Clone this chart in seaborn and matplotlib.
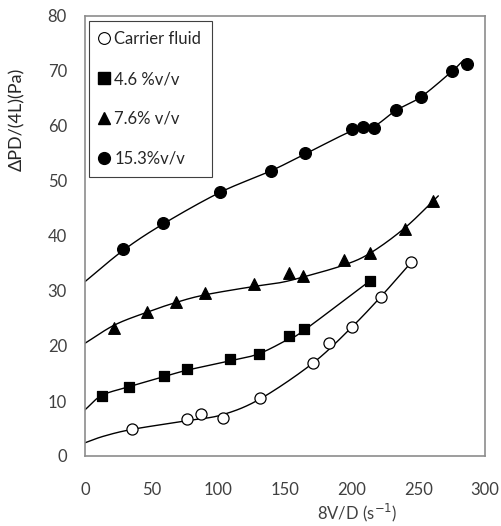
import numpy as np
import pandas as pd
import matplotlib
matplotlib.use("Agg")
import matplotlib.pyplot as plt
import seaborn as sns
from matplotlib.lines import Line2D
from matplotlib.ticker import MultipleLocator

# Measured wall shear stress vs. nominal shear rate
series_names = ["Carrier fluid", "4.6 %v/v", "7.6% v/v", "15.3%v/v"]

carrier_x = [35.5, 76.3, 87.0, 103.3, 131.5, 171.2, 183.2, 200.5, 221.8, 244.7]
carrier_y = [4.9, 6.7, 7.7, 7.0, 10.6, 17.0, 20.6, 23.5, 29.0, 35.3]

conc46_x = [12.5, 33.0, 59.0, 76.5, 109.0, 130.5, 153.0, 164.3, 213.8]
conc46_y = [11.0, 12.5, 14.5, 15.8, 17.6, 18.6, 21.8, 23.1, 31.9]

conc76_x = [22.0, 46.3, 68.0, 90.0, 126.5, 153.0, 163.3, 194.3, 213.8, 240.2, 260.8]
conc76_y = [23.3, 26.1, 28.0, 29.7, 31.3, 33.2, 32.7, 35.6, 36.9, 41.3, 46.4]

conc153_x = [28.7, 58.7, 101.3, 139.3, 165.0, 200.5, 208.7, 216.8, 233.0, 251.8, 275.0, 286.7]
conc153_y = [37.6, 42.3, 48.0, 51.8, 55.0, 59.5, 59.8, 59.6, 62.9, 65.3, 70.0, 71.2]

# Hand-drawn trend curves (knots of each smooth line)
carrier_curve_x = [0, 14, 35.5, 76, 103, 131.5, 171, 200, 222, 245]
carrier_curve_y = [2.4, 3.6, 4.85, 6.4, 7.5, 10.4, 16.9, 23.4, 29.0, 35.3]

conc46_curve_x = [0, 12.5, 33, 59, 76.5, 109, 130.5, 153, 164, 214]
conc46_curve_y = [8.4, 11.0, 12.6, 14.4, 15.6, 17.3, 18.6, 21.3, 22.8, 31.9]

conc76_curve_x = [0, 22, 46, 68, 90, 126, 146, 163, 194, 214, 240, 265]
conc76_curve_y = [20.5, 23.8, 26.1, 27.9, 29.3, 30.8, 31.5, 32.5, 34.7, 36.9, 41.5, 47.3]

conc153_curve_x = [0, 28.7, 58.7, 101, 139, 165, 201, 217, 233, 252, 275, 284]
conc153_curve_y = [31.7, 37.4, 42.2, 47.9, 51.8, 54.9, 59.2, 60.0, 62.8, 65.3, 69.9, 72.0]


def smooth_curve(xs, ys, n=30):
    """Catmull-Rom spline through the given knots."""
    p = np.column_stack([xs, ys]).astype(float)
    p = np.vstack([2 * p[0] - p[1], p, 2 * p[-1] - p[-2]])
    out = []
    t = np.linspace(0, 1, n, endpoint=False)[:, None]
    for i in range(1, len(p) - 2):
        p0, p1, p2, p3 = p[i - 1], p[i], p[i + 1], p[i + 2]
        seg = 0.5 * ((2 * p1) + (-p0 + p2) * t
                     + (2 * p0 - 5 * p1 + 4 * p2 - p3) * t ** 2
                     + (-p0 + 3 * p1 - 3 * p2 + p3) * t ** 3)
        out.append(seg)
    out.append(p[-2][None, :])
    out = np.vstack(out)
    return out[:, 0], out[:, 1]


points = pd.concat([
    pd.DataFrame({"x": carrier_x, "y": carrier_y, "series": series_names[0]}),
    pd.DataFrame({"x": conc46_x, "y": conc46_y, "series": series_names[1]}),
    pd.DataFrame({"x": conc76_x, "y": conc76_y, "series": series_names[2]}),
    pd.DataFrame({"x": conc153_x, "y": conc153_y, "series": series_names[3]}),
], ignore_index=True)

curve_frames = []
for name, cx, cy in [(series_names[0], carrier_curve_x, carrier_curve_y),
                     (series_names[1], conc46_curve_x, conc46_curve_y),
                     (series_names[2], conc76_curve_x, conc76_curve_y),
                     (series_names[3], conc153_curve_x, conc153_curve_y)]:
    sx, sy = smooth_curve(cx, cy)
    curve_frames.append(pd.DataFrame({"x": sx, "y": sy, "series": name,
                                      "order": np.arange(len(sx))}))
curves = pd.concat(curve_frames, ignore_index=True)

sns.set_theme(style="white")
plt.rcParams["font.family"] = ["Lato", "DejaVu Sans"]

fig = plt.figure(figsize=(5.01, 5.26), dpi=100)
ax = fig.add_axes([85 / 501, 1 - 456 / 526, 400 / 501, 440 / 526])

for name in series_names:
    sub = curves[curves["series"] == name]
    sns.lineplot(data=sub, x="x", y="y", sort=False, estimator=None,
                 color="black", linewidth=1.0, ax=ax, legend=False)

styles = {
    series_names[0]: dict(marker="o", s=64, facecolor="white"),
    series_names[1]: dict(marker="s", s=56, facecolor="black"),
    series_names[2]: dict(marker="^", s=70, facecolor="black"),
    series_names[3]: dict(marker="o", s=72, facecolor="black"),
}
for name in series_names:
    sub = points[points["series"] == name]
    st = styles[name]
    sns.scatterplot(data=sub, x="x", y="y", marker=st["marker"], s=st["s"],
                    color=st["facecolor"], edgecolor="black", linewidth=0.9,
                    ax=ax, legend=False, zorder=3)

ax.set_xlim(0, 300)
ax.set_ylim(0, 80)
ax.xaxis.set_major_locator(MultipleLocator(50))
ax.xaxis.set_minor_locator(MultipleLocator(10))
ax.yaxis.set_major_locator(MultipleLocator(10))
ax.yaxis.set_minor_locator(MultipleLocator(2))

spine_grey = "#8c8c8c"
for sp in ax.spines.values():
    sp.set_color(spine_grey)
    sp.set_linewidth(1.2)

ax.tick_params(axis="both", which="both", direction="in", color=spine_grey,
               width=1.2, labelcolor="#404040", labelsize=12)
ax.tick_params(axis="both", which="major", length=5)
ax.tick_params(axis="both", which="minor", length=4)
ax.tick_params(axis="y", which="major", pad=13)
ax.tick_params(axis="x", which="major", pad=19)

ax.set_xlabel("8V/D (s$^{-1}$)", fontsize=12, color="#404040")
ax.set_ylabel("ΔPD/(4L)(Pa)", fontsize=13, color="#262626")
ax.xaxis.set_label_coords(0.68, -0.105)
ax.yaxis.set_label_coords(-0.15, 0.764)

handles = [
    Line2D([], [], linestyle="none", marker="o", markersize=8.5,
           markerfacecolor="white", markeredgecolor="black", markeredgewidth=0.8),
    Line2D([], [], linestyle="none", marker="s", markersize=8.5,
           markerfacecolor="black", markeredgecolor="black"),
    Line2D([], [], linestyle="none", marker="^", markersize=8.5,
           markerfacecolor="black", markeredgecolor="black"),
    Line2D([], [], linestyle="none", marker="o", markersize=8.5,
           markerfacecolor="black", markeredgecolor="black"),
]
leg = ax.legend(handles, series_names, loc="upper left",
                bbox_to_anchor=(4 / 400, 1 - 5 / 440), fontsize=12,
                frameon=True, fancybox=False, framealpha=1, edgecolor="#404040",
                labelspacing=1.43, handlelength=0.6, handletextpad=0.3,
                borderpad=0.62, borderaxespad=0, labelcolor="#262626")
leg.get_frame().set_linewidth(0.8)

fig.savefig("out.png", dpi=100)
